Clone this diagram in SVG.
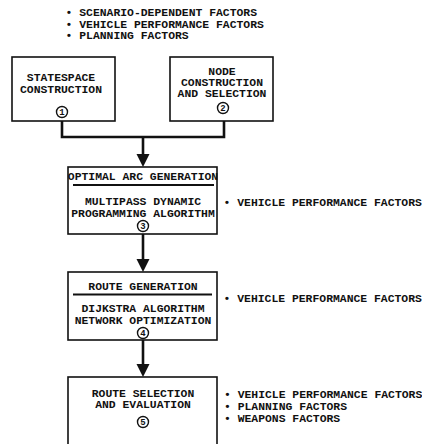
<svg xmlns="http://www.w3.org/2000/svg" width="422" height="444" viewBox="0 0 422 444">
<style>
  text { font-family: "Liberation Mono", "DejaVu Sans Mono", monospace; font-size: 11.4px; font-weight: bold; fill: #111; }
  .c { text-anchor: middle; }
  .box { fill: #fff; stroke: #111; stroke-width: 1.6; }
  .div { stroke: #111; stroke-width: 2; }
  .num { fill: #fff; stroke: #111; stroke-width: 1.4; }
  .nt { font-size: 9px; text-anchor: middle; }
  .wire { fill: none; stroke: #111; stroke-width: 2.6; }
  .head { fill: #111; }
</style>
<rect width="422" height="444" fill="#fff"/>

<g id="top-factors">
  <text x="65.6" y="16" xml:space="preserve">• SCENARIO-DEPENDENT FACTORS</text>
  <text x="65.6" y="28" xml:space="preserve">• VEHICLE PERFORMANCE FACTORS</text>
  <text x="65.6" y="39" xml:space="preserve">• PLANNING FACTORS</text>
</g>

<g id="connectors">
  <path class="wire" d="M62,118 V137 H224 V121"/>
  <path class="wire" d="M143,137 V156"/>
  <polygon class="head" points="136.5,154 149.5,154 143,167"/>
  <path class="wire" d="M143,234 V261"/>
  <polygon class="head" points="136.5,259 149.5,259 143,272"/>
  <path class="wire" d="M143,340 V366"/>
  <polygon class="head" points="136.5,364 149.5,364 143,377"/>
</g>

<g id="node1">
  <rect class="box" x="12" y="57" width="103" height="64"/>
  <text class="c" x="61" y="81">STATESPACE</text>
  <text class="c" x="61" y="93">CONSTRUCTION</text>
  <circle class="num" cx="62" cy="112" r="5.5"/>
  <text class="nt" x="62" y="115.2">1</text>
</g>

<g id="node2">
  <rect class="box" x="170" y="57" width="103" height="64"/>
  <text class="c" x="222" y="75">NODE</text>
  <text class="c" x="222" y="86">CONSTRUCTION</text>
  <text class="c" x="222" y="97">AND SELECTION</text>
  <circle class="num" cx="223" cy="108" r="5.5"/>
  <text class="nt" x="223" y="111.2">2</text>
</g>

<g id="node3">
  <rect class="box" x="68" y="167" width="149" height="67"/>
  <text class="c" x="143" y="180">OPTIMAL ARC GENERATION</text>
  <line class="div" x1="73" y1="185" x2="214" y2="185"/>
  <text class="c" x="143" y="205">MULTIPASS DYNAMIC</text>
  <text class="c" x="143" y="217">PROGRAMMING ALGORITHM</text>
  <circle class="num" cx="143" cy="226" r="5.5"/>
  <text class="nt" x="143" y="229.2">3</text>
</g>
<g id="factors3">
  <text x="223.6" y="206" xml:space="preserve">• VEHICLE PERFORMANCE FACTORS</text>
</g>

<g id="node4">
  <rect class="box" x="68" y="272" width="149" height="68"/>
  <text class="c" x="143" y="290">ROUTE GENERATION</text>
  <line class="div" x1="73" y1="294.5" x2="212" y2="294.5"/>
  <text class="c" x="143" y="312">DIJKSTRA ALGORITHM</text>
  <text class="c" x="143" y="324">NETWORK OPTIMIZATION</text>
  <circle class="num" cx="143" cy="333" r="5.5"/>
  <text class="nt" x="143" y="336.2">4</text>
</g>
<g id="factors4">
  <text x="223.6" y="302" xml:space="preserve">• VEHICLE PERFORMANCE FACTORS</text>
</g>

<g id="node5">
  <rect class="box" x="68" y="377" width="149" height="80"/>
  <text class="c" x="143" y="397">ROUTE SELECTION</text>
  <text class="c" x="143" y="408">AND EVALUATION</text>
  <circle class="num" cx="143" cy="422" r="5.5"/>
  <text class="nt" x="143" y="425.2">5</text>
</g>
<g id="factors5">
  <text x="224" y="398" xml:space="preserve">• VEHICLE PERFORMANCE FACTORS</text>
  <text x="224" y="410" xml:space="preserve">• PLANNING FACTORS</text>
  <text x="224" y="422" xml:space="preserve">• WEAPONS FACTORS</text>
</g>
</svg>
